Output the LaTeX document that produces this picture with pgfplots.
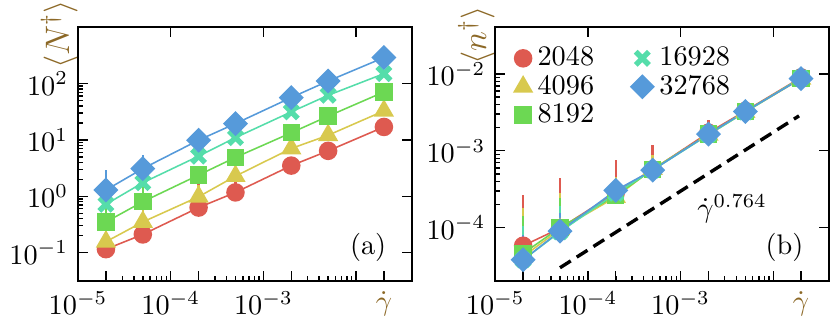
\documentclass[border=0pt]{standalone}
\usepackage{pgfplots}
\pgfplotsset{compat=1.18}
\definecolor{cR}{RGB}{222,90,80}
\definecolor{cY}{RGB}{216,201,78}
\definecolor{cG}{RGB}{108,216,83}
\definecolor{cT}{RGB}{85,221,170}
\definecolor{cB}{RGB}{86,154,218}
\definecolor{lab}{RGB}{140,104,38}

\pgfplotsset{
  ebar/.style={/pgfplots/error bars/y dir=plus, /pgfplots/error bars/y explicit,
    /pgfplots/error bars/error mark=none,
    /pgfplots/error bars/error bar style={line width=0.9pt, #1}},
  sR/.style={cR, line width=0.55pt, mark=*, mark size=3.0pt, mark options={fill=cR, draw=none}},
  sY/.style={cY, line width=0.55pt, mark=triangle*, mark size=3.6pt, mark options={fill=cY, draw=none}},
  sG/.style={cG, line width=0.55pt, mark=square*, mark size=2.8pt, mark options={fill=cG, draw=none}},
  sT/.style={cT, line width=0.55pt, mark=x, mark size=3.3pt, mark options={draw=cT, line width=1.9pt}},
  sB/.style={cB, line width=0.55pt, mark=square*, mark size=2.85pt, mark options={fill=cB, draw=none, rotate=45}},
}

\begin{document}
\begin{tikzpicture}
% (a)
\begin{loglogaxis}[scale only axis, width=118pt, height=89.8pt, clip=false,
  xmin=1e-5, xmax=4e-2, ymin=3.1e-2, ymax=1e3,
  axis line style={line width=0.7pt},
  major tick length=3.5pt, minor tick length=1.8pt,
  tick style={black, line width=0.5pt},
  xtick pos=bottom, ytick pos=left,
  xtick={1e-5,1e-4,1e-3,1e-2},
  xticklabels={$10^{-5}$,$10^{-4}$,$10^{-3}$,},
  extra x ticks={2e-5,2e-4,2e-3,2e-2},
  extra x tick labels={,,,\textcolor{lab}{$\dot{\gamma}$}},
  ytick={1e-1,1,1e1,1e2}]
\addplot[sR, ebar=cR] coordinates {
  (2e-5,0.115) +- (0,2.5) (5e-5,0.21) +- (0,0.8) (2e-4,0.63) +- (0,2.5)
  (5e-4,1.17) +- (0,1.3) (2e-3,3.5) +- (0,1.0) (5e-3,6.4) +- (0,0) (2e-2,17) +- (0,0)};
\addplot[sY, ebar=cY] coordinates {
  (2e-5,0.156) +- (0,0.8) (5e-5,0.35) +- (0,0.5) (2e-4,0.98) +- (0,0.6)
  (5e-4,2.28) +- (0,1.0) (2e-3,7.05) +- (0,0.5) (5e-3,12.1) +- (0,0) (2e-2,32.8) +- (0,0)};
\addplot[sG, ebar=cG] coordinates {
  (2e-5,0.35) +- (0,1.0) (5e-5,0.8) +- (0,0.7) (2e-4,2.38) +- (0,1.0)
  (5e-4,4.9) +- (0,0.8) (2e-3,13.4) +- (0,0) (5e-3,26.4) +- (0,0) (2e-2,71) +- (0,0)};
\addplot[sT, ebar=cT] coordinates {
  (2e-5,0.72) +- (0,1.0) (5e-5,1.74) +- (0,1.0) (2e-4,5.15) +- (0,2.4)
  (5e-4,11) +- (0,1.5) (2e-3,31.5) +- (0,0) (5e-3,62) +- (0,0) (2e-2,150) +- (0,0)};
\addplot[sB, ebar=cB] coordinates {
  (2e-5,1.29) +- (0,1.6) (5e-5,3.1) +- (0,2.2) (2e-4,9.9) +- (0,1.5)
  (5e-4,19.5) +- (0,1.5) (2e-3,56.5) +- (0,0) (5e-3,111) +- (0,0) (2e-2,290) +- (0,0)};
\node[anchor=south east, inner sep=0pt] at (rel axis cs:0.925,0.075) {(a)};
\node[rotate=90, anchor=south, inner sep=0pt, text=lab, font=\large, xshift=-2.5pt]
  at (rel axis cs:0,1) {$\langle N^{\dagger}\rangle$};
\end{loglogaxis}
\begin{loglogaxis}[scale only axis, width=118pt, height=89.8pt,
  xmin=1e-5, xmax=4e-2, ymin=3.1e-2, ymax=1e3,
  axis line style={line width=0.7pt},
  major tick length=3.5pt, tick style={black, line width=0.5pt},
  xtick pos=top, ytick pos=right,
  xtick={1e-4,1e-3,1e-2}, ytick={1e-1,1,1e1,1e2},
  xticklabels={}, yticklabels={},
  ticklabel style={overlay},
  xminorticks=false, yminorticks=false]
\end{loglogaxis}

% (b)
\begin{loglogaxis}[at={(147.5pt,0)}, scale only axis, width=118pt, height=89.8pt, clip=false,
  xmin=1e-5, xmax=4e-2, ymin=2e-5, ymax=4.06e-2,
  axis line style={line width=0.7pt},
  major tick length=3.5pt, minor tick length=1.8pt,
  tick style={black, line width=0.5pt},
  xtick pos=bottom, ytick pos=left,
  xtick={1e-5,1e-4,1e-3,1e-2},
  xticklabels={$10^{-5}$,$10^{-4}$,$10^{-3}$,},
  extra x ticks={2e-5,2e-4,2e-3,2e-2},
  extra x tick labels={,,,\textcolor{lab}{$\dot{\gamma}$}},
  ytick={1e-4,1e-3,1e-2},
  legend columns=2,
  legend cell align=left,
  legend style={at={(rel axis cs:0.03,0.965)}, anchor=north west, yshift=0.5pt,
    draw=none, fill=none,
    /tikz/every even column/.append style={column sep=11pt}, row sep=-2.2pt}]
\addplot[forget plot, sR, ebar=cR] coordinates {
  (2e-5,5.8e-5) +- (0,2.07e-4) (5e-5,9.8e-5) +- (0,3.38e-4) (2e-4,2.85e-4) +- (0,4.65e-4)
  (5e-4,5.7e-4) +- (0,6.1e-4) (2e-3,1.72e-3) +- (0,8.2e-4) (5e-3,3.3e-3) +- (0,7.8e-4) (2e-2,9.0e-3) +- (0,5e-4)};
\addplot[forget plot, sY, ebar=cY] coordinates {
  (2e-5,4.2e-5) +- (0,1.36e-4) (5e-5,9.5e-5) +- (0,1.84e-4) (2e-4,2.5e-4) +- (0,2.1e-4)
  (5e-4,5.8e-4) +- (0,2.95e-4) (2e-3,1.62e-3) +- (0,6.3e-4) (5e-3,3.2e-3) +- (0,6e-4) (2e-2,8.7e-3) +- (0,6e-4)};
\addplot[forget plot, sG, ebar=cG] coordinates {
  (2e-5,4.6e-5) +- (0,9.5e-5) (5e-5,1.0e-4) +- (0,1.41e-4) (2e-4,2.6e-4) +- (0,1.16e-4)
  (5e-4,5.7e-4) +- (0,2.2e-4) (2e-3,1.65e-3) +- (0,3e-4) (5e-3,3.25e-3) +- (0,2.5e-4) (2e-2,8.8e-3) +- (0,2e-4)};
\addplot[forget plot, sT, ebar=cT] coordinates {
  (2e-5,3.8e-5) +- (0,6.7e-5) (5e-5,8.8e-5) +- (0,1.02e-4) (2e-4,2.8e-4) +- (0,5e-5)
  (5e-4,5.6e-4) +- (0,1.7e-4) (2e-3,1.62e-3) +- (0,1.8e-4) (5e-3,3.2e-3) +- (0,1e-4) (2e-2,8.9e-3) +- (0,1e-4)};
\addplot[forget plot, sB, ebar=cB] coordinates {
  (2e-5,3.8e-5) +- (0,4.2e-5) (5e-5,9.0e-5) +- (0,6.5e-5) (2e-4,3.05e-4) +- (0,1.5e-5)
  (5e-4,5.6e-4) +- (0,6e-5) (2e-3,1.65e-3) +- (0,5e-5) (5e-3,3.25e-3) +- (0,5e-5) (2e-2,8.7e-3) +- (0,5e-5)};
\addplot[forget plot, black, line width=1.2pt, dash pattern=on 4.5pt off 2.5pt]
  coordinates {(5e-5,3.0e-5) (1.9e-2,2.85e-3)};
\node at (axis cs:3.6e-3,1.75e-4) {$\dot{\gamma}^{0.764}$};
\node[anchor=south east, inner sep=0pt] at (rel axis cs:0.925,0.075) {(b)};
\node[rotate=90, anchor=south, inner sep=0pt, text=lab, font=\large, xshift=-2.8pt]
  at (rel axis cs:0,1) {$\langle n^{\dagger}\rangle$};
\addlegendimage{sR, only marks}
\addlegendentry{2048}
\addlegendimage{sT, only marks}
\addlegendentry{16928}
\addlegendimage{sY, only marks}
\addlegendentry{4096}
\addlegendimage{sB, only marks}
\addlegendentry{32768}
\addlegendimage{sG, only marks}
\addlegendentry{8192}
\end{loglogaxis}
\begin{loglogaxis}[at={(147.5pt,0)}, scale only axis, width=118pt, height=89.8pt,
  xmin=1e-5, xmax=4e-2, ymin=2e-5, ymax=4.06e-2,
  axis line style={line width=0.7pt},
  major tick length=3.5pt, tick style={black, line width=0.5pt},
  xtick pos=top, ytick pos=right,
  xtick={1e-4,1e-3,1e-2}, ytick={1e-4,1e-3,1e-2},
  xticklabels={}, yticklabels={},
  ticklabel style={overlay},
  xminorticks=false, yminorticks=false]
\end{loglogaxis}
\end{tikzpicture}
\end{document}
